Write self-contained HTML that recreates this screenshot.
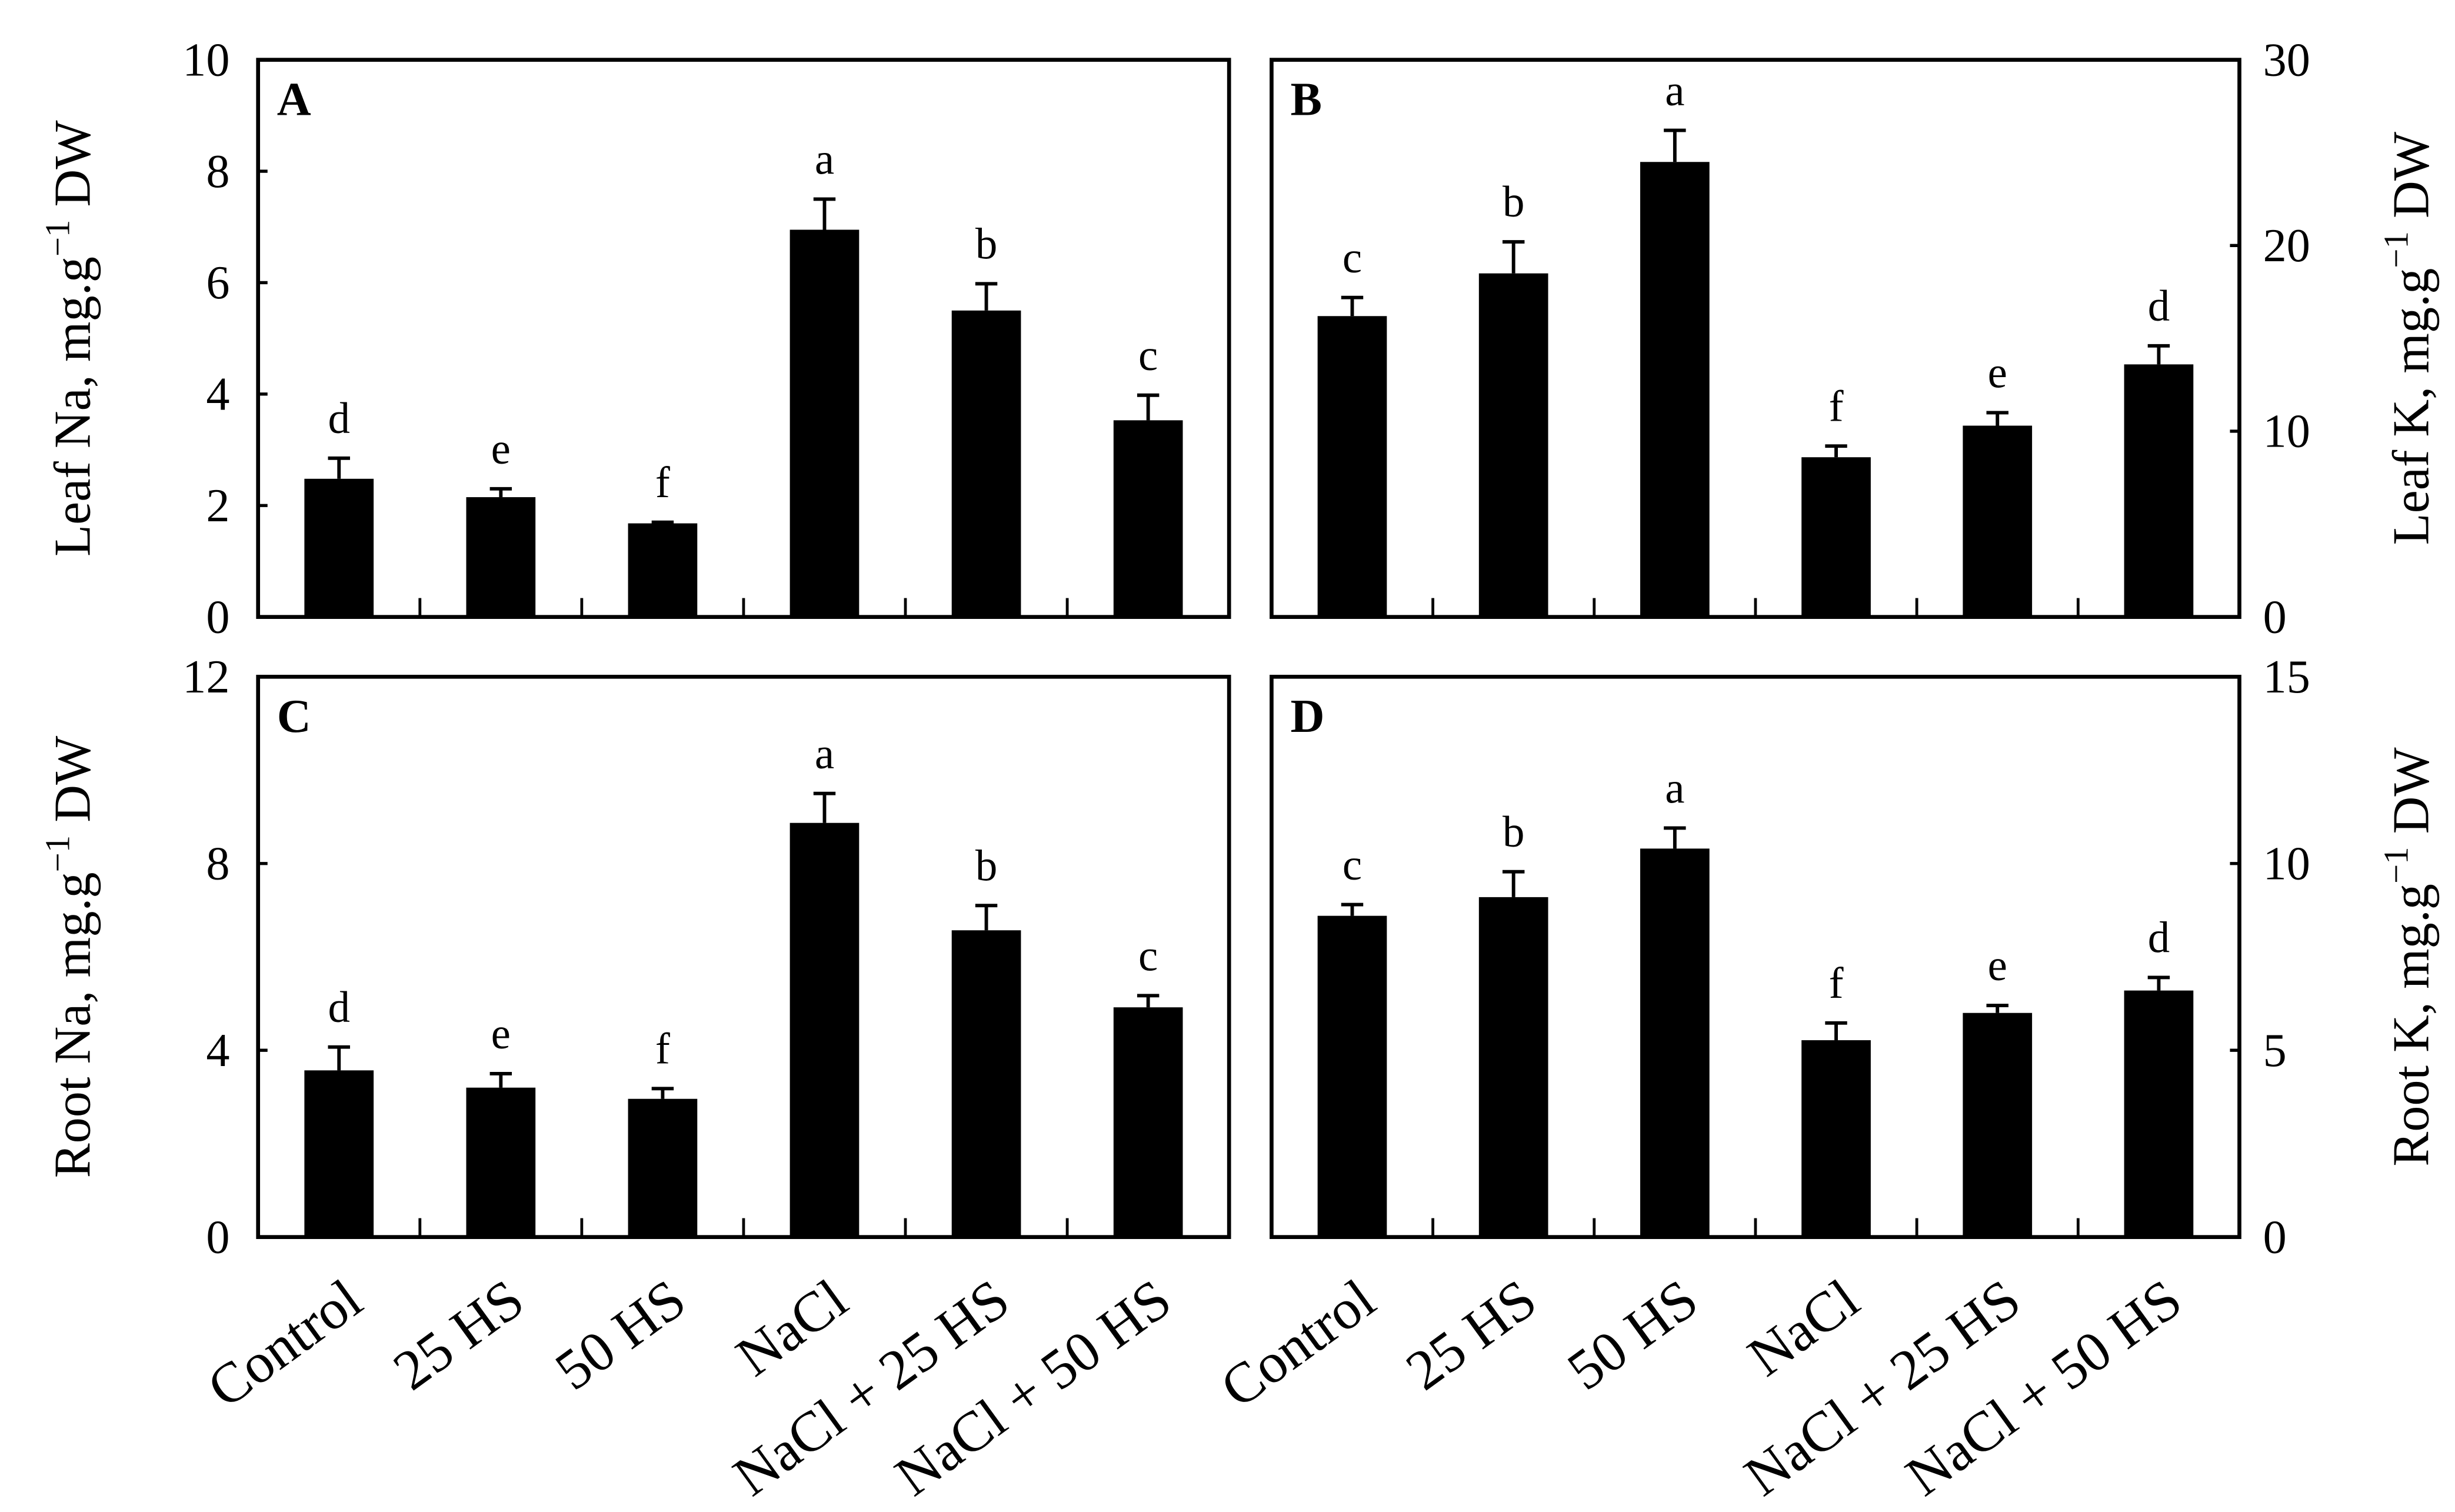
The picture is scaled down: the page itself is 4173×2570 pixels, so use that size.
<!DOCTYPE html>
<html><head><meta charset="utf-8">
<style>html,body{margin:0;padding:0;background:#fff;}svg{display:block;}</style>
</head><body>
<svg id="fig" width="4173" height="2570" viewBox="0 0 1560 960.7" preserveAspectRatio="none" xmlns="http://www.w3.org/2000/svg" font-family="'Liberation Serif', serif"></svg>
<script>
const categories = ["Control","25 HS","50 HS","NaCl","NaCl + 25 HS","NaCl + 50 HS"];
const leafNa = [2.48, 2.15, 1.68, 6.95, 5.5, 3.53];
const leafNaErr = [0.37, 0.15, 0.02, 0.55, 0.48, 0.45];
const leafNaLetters = ["d","e","f","a","b","c"];
const leafK = [16.2, 18.5, 24.5, 8.6, 10.3, 13.6];
const leafKErr = [1.0, 1.7, 1.7, 0.6, 0.7, 1.0];
const leafKLetters = ["c","b","a","f","e","d"];
const rootNa = [3.57, 3.2, 2.96, 8.87, 6.57, 4.92];
const rootNaErr = [0.5, 0.3, 0.22, 0.63, 0.53, 0.25];
const rootNaLetters = ["d","e","f","a","b","c"];
const rootK = [8.6, 9.1, 10.4, 5.27, 6.0, 6.6];
const rootKErr = [0.3, 0.68, 0.55, 0.46, 0.2, 0.35];
const rootKLetters = ["c","b","a","f","e","d"];
const ticksA = [0,2,4,6,8,10];
const ticksB = [0,10,20,30];
const ticksC = [0,4,8,12];
const ticksD = [0,5,10,15];

const NS = "http://www.w3.org/2000/svg";
const svg = document.getElementById("fig");
function mk(tag, attrs, parent){
  const e = document.createElementNS(NS, tag);
  for (const k in attrs) e.setAttribute(k, attrs[k]);
  (parent||svg).appendChild(e);
  return e;
}

function panel(id, x0, x1, y0, y1, max, ticks, vals, errs, letters, side, title, label){
  const g = mk("g", {});
  
  
  const yS = v => y1 - (v / max) * (y1 - y0);
  const slot = (x1 - x0) / categories.length;
  const xC = i => x0 + slot * (i + 0.5);
  const bw = 44;
  vals.forEach((v, i) => {
    const r = mk("rect", {x: xC(i) - bw/2, y: yS(v), width: bw, height: y1 - yS(v), fill: "#000"}, g);
    
    
    const top = yS(v + errs[i]);
    const eb = mk("path", {d: `M${xC(i)},${yS(v)}V${top}M${xC(i)-7},${top}H${xC(i)+7}`, stroke: "#000", "stroke-width": 2.2, fill: "none"}, g);
    
    
    const t = mk("text", {x: xC(i), y: top - 16, "font-size": 28, "text-anchor": "middle"}, g);
    t.textContent = letters[i];
    
    
  });
  for (let i = 1; i < categories.length; i++){
    const xb = x0 + slot * i;
    mk("line", {x1: xb, x2: xb, y1: y1, y2: y1 - 12, stroke: "#000", "stroke-width": 1.8}, g);
  }
  ticks.forEach(t => {
    const y = yS(t);
    if (side === "left"){
      mk("line", {x1: x0, x2: x0 + 6, y1: y, y2: y, stroke: "#000", "stroke-width": 2}, g);
      const tl = mk("text", {x: x0 - 18, y: y + 10, "font-size": 30, "text-anchor": "end"}, g);
      tl.textContent = t;
      
      
    } else {
      mk("line", {x1: x1, x2: x1 - 6, y1: y, y2: y, stroke: "#000", "stroke-width": 2}, g);
      const tl = mk("text", {x: x1 + 15, y: y + 10, "font-size": 30, "text-anchor": "start"}, g);
      tl.textContent = t;
      
      
    }
  });
  const fr = mk("rect", {x: x0, y: y0, width: x1 - x0, height: y1 - y0, fill: "none", stroke: "#000", "stroke-width": 2.5}, g);
  
  
  const pl = mk("text", {x: x0 + 12, y: y0 + 35, "font-size": 30, "font-weight": "bold"}, g);
  pl.textContent = label;
  
  
  const cx = side === "left" ? 57 : 1543;
  const cy = (y0 + y1) / 2;
  const yt = mk("text", {x: cx, y: cy, "font-size": 33, "text-anchor": "middle", transform: `rotate(-90 ${cx} ${cy})`}, g);
  yt.innerHTML = title + ', mg.g<tspan dy="-13" font-size="22">−1</tspan><tspan dy="13"> DW</tspan>';
  
  
}

function xLabels(x0, x1, id){
  const slot = (x1 - x0) / categories.length;
  categories.forEach((c, i) => {
    const ax = x0 + slot * (i + 0.5) + 17;
    const ay = 831;
    const t = mk("text", {x: ax, y: ay, "font-size": 36, "text-anchor": "end", transform: `rotate(-36 ${ax} ${ay})`});
    t.textContent = c;
    
    
  });
}

panel("a", 164, 781, 38, 392, 10, ticksA, leafNa, leafNaErr, leafNaLetters, "left", "Leaf Na", "A");
panel("b", 808, 1423, 38, 392, 30, ticksB, leafK, leafKErr, leafKLetters, "right", "Leaf K", "B");
panel("c", 164, 781, 430, 786, 12, ticksC, rootNa, rootNaErr, rootNaLetters, "left", "Root Na", "C");
panel("d", 808, 1423, 430, 786, 15, ticksD, rootK, rootKErr, rootKLetters, "right", "Root K", "D");
xLabels(164, 781, "left");
xLabels(808, 1423, "right");
</script>
</body></html>
